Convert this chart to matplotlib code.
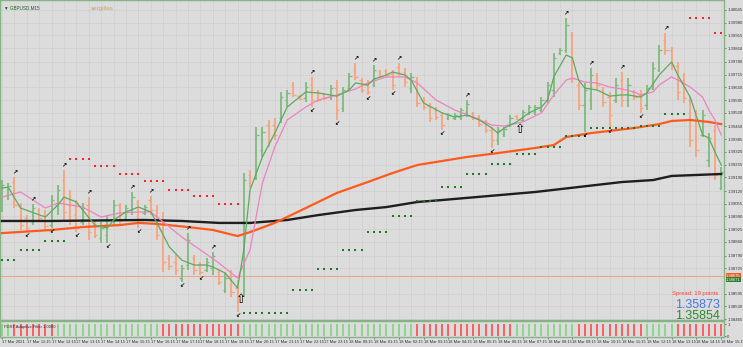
import matplotlib
matplotlib.use("Agg")
from matplotlib import pyplot as plt
import numpy as np

plt.rcParams["font.family"] = ["Liberation Sans", "DejaVu Sans"]

# GBPUSD M15 bars, 17 Mar 10:15 .. 18 Mar 15:15
opens = [1.39033, 1.39100, 1.39166, 1.39048, 1.38982, 1.38962, 1.39023, 1.38997, 1.38946, 1.39048,
         1.39176, 1.39048, 1.38997, 1.38962, 1.39048, 1.38946, 1.38880, 1.38895, 1.38972, 1.39048,
         1.38982, 1.39023, 1.39064, 1.39008, 1.39074, 1.39023, 1.38921, 1.38778, 1.38757, 1.38675,
         1.38742, 1.38778, 1.38742, 1.38716, 1.38727, 1.38706, 1.38614, 1.38691, 1.38624, 1.38589,
         1.39202, 1.39186, 1.39329, 1.39457, 1.39457, 1.39493, 1.39585, 1.39662, 1.39605, 1.39595,
         1.39662, 1.39626, 1.39616, 1.39600, 1.39646, 1.39544, 1.39646, 1.39738, 1.39687, 1.39662,
         1.39662, 1.39733, 1.39733, 1.39718, 1.39754, 1.39728, 1.39646, 1.39687, 1.39585, 1.39554,
         1.39534, 1.39508, 1.39493, 1.39493, 1.39498, 1.39524, 1.39519, 1.39498, 1.39473, 1.39432,
         1.39381, 1.39411, 1.39457, 1.39503, 1.39483, 1.39519, 1.39524, 1.39534, 1.39585, 1.39636,
         1.39825, 1.39840, 1.39917, 1.39662, 1.39559, 1.39585, 1.39713, 1.39636, 1.39600, 1.39585,
         1.39687, 1.39585, 1.39626, 1.39611, 1.39559, 1.39646, 1.39738, 1.39892, 1.39840, 1.39759,
         1.39687, 1.39585, 1.39508, 1.39406, 1.39278, 1.39432, 1.39135]
highs = [1.39176, 1.39161, 1.39192, 1.39059, 1.38997, 1.39054, 1.39033, 1.39023, 1.39100, 1.39151,
         1.39227, 1.39125, 1.39074, 1.39059, 1.39089, 1.38972, 1.38962, 1.38997, 1.39074, 1.39059,
         1.39048, 1.39115, 1.39074, 1.39048, 1.39094, 1.39048, 1.39013, 1.38793, 1.38793, 1.38742,
         1.38905, 1.38793, 1.38757, 1.38778, 1.38808, 1.38716, 1.38701, 1.38716, 1.38665, 1.39212,
         1.39227, 1.39447, 1.39447, 1.39483, 1.39493, 1.39626, 1.39636, 1.39677, 1.39611, 1.39677,
         1.39703, 1.39636, 1.39621, 1.39662, 1.39687, 1.39651, 1.39723, 1.39774, 1.39697, 1.39687,
         1.39764, 1.39738, 1.39743, 1.39738, 1.39774, 1.39749, 1.39723, 1.39703, 1.39600, 1.39570,
         1.39549, 1.39524, 1.39519, 1.39519, 1.39544, 1.39585, 1.39524, 1.39508, 1.39483, 1.39447,
         1.39447, 1.39447, 1.39508, 1.39508, 1.39534, 1.39559, 1.39559, 1.39600, 1.39677, 1.39825,
         1.39851, 1.40004, 1.39932, 1.39677, 1.39672, 1.39749, 1.39723, 1.39651, 1.39626, 1.39697,
         1.39728, 1.39697, 1.39636, 1.39636, 1.39662, 1.39779, 1.39866, 1.39927, 1.39856, 1.39779,
         1.39723, 1.39600, 1.39534, 1.39534, 1.39416, 1.39457, 1.39243]
lows = [1.39013, 1.39074, 1.39033, 1.38921, 1.38910, 1.38946, 1.38962, 1.38921, 1.38931, 1.38997,
        1.38972, 1.38946, 1.38910, 1.38946, 1.38870, 1.38880, 1.38854, 1.38854, 1.38946, 1.38946,
        1.38972, 1.38997, 1.38931, 1.38997, 1.38997, 1.38870, 1.38706, 1.38716, 1.38691, 1.38655,
        1.38716, 1.38691, 1.38691, 1.38706, 1.38691, 1.38640, 1.38599, 1.38578, 1.38502, 1.38578,
        1.39135, 1.39176, 1.39294, 1.39345, 1.39381, 1.39467, 1.39549, 1.39600, 1.39585, 1.39575,
        1.39549, 1.39575, 1.39585, 1.39585, 1.39483, 1.39524, 1.39636, 1.39687, 1.39621, 1.39611,
        1.39651, 1.39697, 1.39703, 1.39636, 1.39703, 1.39651, 1.39621, 1.39549, 1.39534, 1.39473,
        1.39483, 1.39432, 1.39483, 1.39483, 1.39483, 1.39498, 1.39483, 1.39447, 1.39416, 1.39340,
        1.39355, 1.39396, 1.39447, 1.39483, 1.39473, 1.39508, 1.39508, 1.39524, 1.39570, 1.39600,
        1.39815, 1.39825, 1.39672, 1.39534, 1.39421, 1.39534, 1.39636, 1.39549, 1.39442, 1.39570,
        1.39549, 1.39549, 1.39585, 1.39519, 1.39534, 1.39636, 1.39728, 1.39815, 1.39738, 1.39585,
        1.39570, 1.39345, 1.39294, 1.39396, 1.39243, 1.39176, 1.39125]
closes = [1.39151, 1.39146, 1.39048, 1.38946, 1.38931, 1.39033, 1.38982, 1.38941, 1.39074, 1.39125,
          1.39013, 1.38972, 1.38931, 1.39033, 1.38910, 1.38895, 1.38931, 1.38972, 1.39048, 1.38972,
          1.39033, 1.39089, 1.38962, 1.39038, 1.39023, 1.38895, 1.38757, 1.38737, 1.38716, 1.38727,
          1.38870, 1.38716, 1.38706, 1.38757, 1.38788, 1.38655, 1.38675, 1.38604, 1.38563, 1.39176,
          1.39151, 1.39406, 1.39421, 1.39381, 1.39406, 1.39600, 1.39621, 1.39611, 1.39590, 1.39651,
          1.39585, 1.39585, 1.39595, 1.39646, 1.39534, 1.39636, 1.39708, 1.39703, 1.39636, 1.39626,
          1.39738, 1.39708, 1.39713, 1.39662, 1.39718, 1.39677, 1.39703, 1.39570, 1.39549, 1.39493,
          1.39498, 1.39457, 1.39508, 1.39508, 1.39534, 1.39565, 1.39493, 1.39462, 1.39432, 1.39381,
          1.39432, 1.39437, 1.39493, 1.39488, 1.39524, 1.39549, 1.39549, 1.39585, 1.39662, 1.39800,
          1.39840, 1.39968, 1.39697, 1.39559, 1.39636, 1.39713, 1.39662, 1.39575, 1.39508, 1.39662,
          1.39585, 1.39662, 1.39600, 1.39544, 1.39646, 1.39749, 1.39840, 1.39840, 1.39764, 1.39626,
          1.39595, 1.39381, 1.39329, 1.39508, 1.39391, 1.39202, 1.39217]

# moving averages (bar index, price)
fast_idx = [0, 1, 3, 7, 9, 10, 12, 13, 15, 17, 18, 20, 22, 24, 25, 27, 29, 31, 33, 34,
            36, 38, 39, 40, 42, 44, 46, 49, 51, 54, 56, 57, 59, 60, 62, 63, 65, 66, 68, 71,
            73, 75, 77, 79, 80, 81, 83, 85, 87, 88, 89, 91, 92, 93, 94, 96, 98, 100, 101, 103,
            104, 106, 108, 109, 111, 113, 114, 115, 116]
fast_ma = [1.39135, 1.39140, 1.39033, 1.38987, 1.39048, 1.39089, 1.39064, 1.39023, 1.38946, 1.38931,
           1.38972, 1.39013, 1.39038, 1.39013, 1.38957, 1.38834, 1.38767, 1.38742, 1.38742, 1.38732,
           1.38701, 1.38624, 1.38819, 1.39125, 1.39294, 1.39416, 1.39549, 1.39626, 1.39621, 1.39605,
           1.39636, 1.39672, 1.39662, 1.39692, 1.39713, 1.39728, 1.39713, 1.39687, 1.39570, 1.39519,
           1.39498, 1.39508, 1.39483, 1.39442, 1.39416, 1.39442, 1.39473, 1.39519, 1.39549, 1.39585,
           1.39703, 1.39815, 1.39800, 1.39687, 1.39646, 1.39636, 1.39605, 1.39611, 1.39611, 1.39600,
           1.39621, 1.39713, 1.39779, 1.39713, 1.39600, 1.39406, 1.39391, 1.39319, 1.39253]
slow_idx = [0, 3, 7, 9, 13, 16, 19, 22, 24, 26, 29, 32, 35, 38, 40, 42, 44, 46, 49, 51,
            54, 57, 59, 62, 65, 67, 70, 73, 76, 79, 81, 84, 87, 89, 91, 92, 94, 96, 98, 100,
            102, 103, 105, 106, 108, 109, 111, 113, 114, 115, 116]
slow_ma = [1.39089, 1.39115, 1.39033, 1.39059, 1.39038, 1.38987, 1.39008, 1.39013, 1.39013, 1.38962,
           1.38885, 1.38819, 1.38752, 1.38675, 1.38819, 1.39161, 1.39345, 1.39483, 1.39549, 1.39585,
           1.39611, 1.39641, 1.39672, 1.39703, 1.39703, 1.39672, 1.39585, 1.39534, 1.39498, 1.39457,
           1.39452, 1.39473, 1.39519, 1.39611, 1.39687, 1.39697, 1.39677, 1.39672, 1.39651, 1.39641,
           1.39626, 1.39611, 1.39626, 1.39662, 1.39703, 1.39687, 1.39651, 1.39600, 1.39534, 1.39483,
           1.39406]
ema_idx = [0, 8, 13, 19, 22, 25, 30, 34, 38, 40, 44, 49, 54, 59, 63, 67, 75, 80, 86, 89,
           91, 95, 102, 106, 108, 111, 114, 116]
ema_ma = [1.38905, 1.38921, 1.38936, 1.38946, 1.38957, 1.38952, 1.38936, 1.38921, 1.38890, 1.38910,
          1.38957, 1.39033, 1.39110, 1.39166, 1.39212, 1.39253, 1.39294, 1.39314, 1.39340, 1.39355,
          1.39396, 1.39416, 1.39442, 1.39462, 1.39478, 1.39483, 1.39473, 1.39462]
long_idx = [0, 8, 23, 29, 35, 40, 46, 51, 57, 62, 67, 71, 86, 100, 105, 108, 116]
long_ma = [1.38967, 1.38967, 1.38972, 1.38967, 1.38957, 1.38957, 1.38972, 1.38997, 1.39023, 1.39038,
           1.39064, 1.39074, 1.39115, 1.39166, 1.39176, 1.39197, 1.39207]

# resistance (red) and support (green) dots: first bar, last bar, price
res_dots = [(11, 14, 1.39284), (15, 18, 1.39248), (19, 22, 1.39207), (23, 26, 1.39171),
            (27, 30, 1.39125), (31, 34, 1.39094), (35, 38, 1.39054), (111, 114, 1.40004),
            (115, 116, 1.39927)]
sup_dots = [(0, 2, 1.38767), (3, 6, 1.38819), (7, 10, 1.38865), (39, 46, 1.38496),
            (47, 50, 1.38614), (51, 54, 1.38721), (55, 58, 1.38819), (59, 62, 1.38910),
            (63, 66, 1.38992), (67, 70, 1.39069), (71, 74, 1.39140), (75, 78, 1.39207),
            (79, 82, 1.39258), (83, 86, 1.39309), (87, 90, 1.39345), (91, 94, 1.39401),
            (95, 102, 1.39442), (103, 106, 1.39452), (107, 110, 1.39513)]

fractal_up = [2, 5, 10, 14, 21, 24, 30, 34, 50, 57, 60, 64, 75, 91, 95, 100, 107]
fractal_dn = [4, 8, 12, 17, 22, 29, 32, 38, 50, 54, 59, 63, 71, 79, 94, 98, 103]
big_arrows = [(38.5, 1.38566), (83.5, 1.39432)]

# filter panel: 1 = up (green), -1 = down (red)
filter_sig = [1] * 2 + [-1] * 7 + [1] * 17 + [-1] * 13 + [1] * 28 + [-1] * 16 + [1] * 10 + [-1] * 11 + [1] * 5 + [-1] * 8

price_ticks = [1.40045, 1.39980, 1.39915, 1.39850, 1.39780, 1.39715, 1.39650, 1.39585,
               1.39520, 1.39450, 1.39385, 1.39320, 1.39255, 1.39190, 1.39120, 1.39055,
               1.38990, 1.38925, 1.38860, 1.38790, 1.38725, 1.38595, 1.38530, 1.38465]
time_labels = ["17 Mar 2021", "17 Mar 11:15", "17 Mar 12:15", "17 Mar 13:15", "17 Mar 14:15",
               "17 Mar 15:15", "17 Mar 16:15", "17 Mar 17:15", "17 Mar 18:15", "17 Mar 19:15",
               "17 Mar 20:15", "17 Mar 21:15", "17 Mar 22:15", "17 Mar 23:15", "18 Mar 00:15",
               "18 Mar 01:15", "18 Mar 02:15", "18 Mar 03:15", "18 Mar 04:15", "18 Mar 05:15",
               "18 Mar 06:15", "18 Mar 07:15", "18 Mar 08:15", "18 Mar 09:15", "18 Mar 10:15",
               "18 Mar 11:15", "18 Mar 12:15", "18 Mar 13:15", "18 Mar 14:15", "18 Mar 15:15"]
bid_line = 1.38686
ask_label, bid_label = "1.38675", "1.38671"

bg = "#dcdcdc"
border = "#86b286"
up_col = "#7dbb7d"
dn_col = "#f7a47e"
txt = "#303030"

W, H = 743, 347
fig = plt.figure(figsize=(W / 100, H / 100), dpi=100, facecolor=bg)
ax = fig.add_axes([0, 27 / H, 724 / W, 320 / H], facecolor=bg)
axf = fig.add_axes([0, 10 / H, 724 / W, 16 / H], facecolor=bg, sharex=ax)

n = len(closes)
x = np.arange(n)
o, h, l, c = map(np.array, (opens, highs, lows, closes))
cols = [up_col if c[i] >= o[i] else dn_col for i in range(n)]

# grid
for g in range(0, n, 2):
    ax.axvline(g, color="#c4c4c4", lw=0.5, ls=(0, (1.5, 1.5)), zorder=0)
    axf.axvline(g, color="#c4c4c4", lw=0.5, ls=(0, (1.5, 1.5)), zorder=0)
for p in price_ticks:
    ax.axhline(p, color="#c4c4c4", lw=0.5, ls=(0, (1.5, 1.5)), zorder=0)

ax.axhline(bid_line, color="#f0a080", lw=0.7, zorder=1)

# OHLC bars
ax.vlines(x, l, h, colors=cols, lw=1.3, zorder=2)
ax.hlines(o, x - 0.4, x, colors=cols, lw=0.9, zorder=2)
ax.hlines(c, x, x + 0.4, colors=cols, lw=0.9, zorder=2)

ax.plot(long_idx, long_ma, color="#1e1e1e", lw=1.7, zorder=3)
ax.plot(ema_idx, ema_ma, color="#ff5a1e", lw=1.6, zorder=3)
ax.plot(slow_idx, slow_ma, color="#ee82c0", lw=0.9, zorder=4)
ax.plot(fast_idx, fast_ma, color="#5fa85f", lw=0.9, zorder=4)

for a, b, p in res_dots:
    xs = np.arange(a, b + 1)
    ax.scatter(xs, [p] * len(xs), s=2.2, marker="s", color="#ff2222", lw=0, zorder=5)
for a, b, p in sup_dots:
    xs = np.arange(a, b + 1)
    ax.scatter(xs, [p] * len(xs), s=2.2, marker="s", color="#1f7a1f", lw=0, zorder=5)

for i in fractal_up:
    ax.annotate("\u2197", (i, h[i]), xytext=(0, 1), textcoords="offset points",
                ha="center", va="bottom", fontsize=4.5, fontweight="bold", color="black",
                family="DejaVu Sans", zorder=6)
for i in fractal_dn:
    ax.annotate("\u2199", (i, l[i]), xytext=(0, -1), textcoords="offset points",
                ha="center", va="top", fontsize=4.5, fontweight="bold", color="black",
                family="DejaVu Sans", zorder=6)
for bx, by in big_arrows:
    ax.text(bx, by, "\u21e7", ha="center", va="center", fontsize=9, color="black",
            family="DejaVu Sans", zorder=6)

ax.set_xlim(-0.32, 116.45)
ax.set_ylim(1.38461, 1.40096)
ax.yaxis.tick_right()
ax.set_yticks(price_ticks)
ax.set_yticklabels([f"{p:.5f}" for p in price_ticks], fontsize=3.1, color=txt)
ax.tick_params(axis="y", length=1.5, width=0.5, color="#505050", pad=0.8)
ax.tick_params(axis="x", length=0, labelbottom=False)
for s in ax.spines.values():
    s.set_color(border)
    s.set_linewidth(1.0)

# price boxes on the axis
ax.text(1.003, bid_line, ask_label, transform=ax.get_yaxis_transform(), fontsize=3.0,
        color="white", va="center", ha="left",
        bbox=dict(boxstyle="square,pad=0.12", fc="#f05a28", ec="none"))
ax.text(1.003, bid_line - 0.00019, bid_label, transform=ax.get_yaxis_transform(), fontsize=3.0,
        color="white", va="center", ha="left",
        bbox=dict(boxstyle="square,pad=0.12", fc="#2e7d2e", ec="none"))

ax.text(0.992, 0.083, "Spread: 19 points", transform=ax.transAxes, ha="right", va="center",
        fontsize=4.2, color="#ff4040")
ax.text(0.995, 0.048, "1.35873", transform=ax.transAxes, ha="right", va="center",
        fontsize=9, color="#4a78e0")
ax.text(0.995, 0.012, "1.35854", transform=ax.transAxes, ha="right", va="center",
        fontsize=9, color="#2a8a2a")

ax.text(0.006, 0.985, "\u25bc GBPUSD,M15", transform=ax.transAxes, ha="left", va="top",
        fontsize=3.3, color="#1f5f1f")
ax.text(0.126, 0.982, "sergillas", transform=ax.transAxes, ha="left", va="top",
        fontsize=4.5, color="#c8a858")

# filter panel
fcols = ["#ff4a4a" if s < 0 else "#7fd47f" for s in filter_sig]
axf.vlines(x, 0, 1, colors=fcols, lw=1.2, zorder=2)
axf.set_ylim(-0.08, 1.25)
axf.yaxis.tick_right()
axf.set_yticks([0, 1])
axf.set_yticklabels(["0", "1"], fontsize=3.1, color=txt)
axf.tick_params(axis="y", length=1.5, width=0.5, color="#505050", pad=0.8)
axf.text(0.005, 0.6, "FDST Adaptive Filter 1.0000", transform=axf.transAxes, fontsize=3,
         color=txt, va="center", ha="left")
axf.set_xticks(np.arange(0, n, 4))
axf.set_xticklabels(time_labels, fontsize=2.9, color=txt, ha="left")
axf.tick_params(axis="x", length=1.5, width=0.5, color="#505050", pad=1)
for s in axf.spines.values():
    s.set_color(border)
    s.set_linewidth(1.0)

fig.savefig("out.png", dpi=100, facecolor=bg)
